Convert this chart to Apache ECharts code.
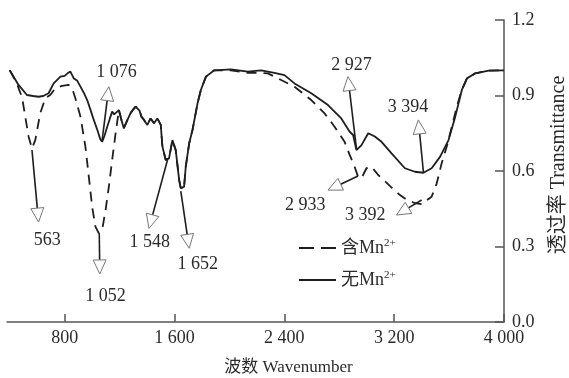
<!DOCTYPE html>
<html>
<head>
<meta charset="utf-8">
<script src="https://cdn.jsdelivr.net/npm/echarts@6/dist/echarts.min.js"></script>
<style>html,body{margin:0;padding:0;background:#fff}#c{width:569px;height:378px}</style>
</head>
<body>
<div id="c"></div>
<script>
// ---- data ----
var seriesNames = ['含Mn2+', '无Mn2+'];
var withMnX = [400,430,452,470,489,513,537,562,586,622,659,695,732,781,829,854,878,915,951,976,1000,1024,1049,1073,1098,1122,1146,1171,1188,1195,1215,1231,1255,1280,1300,1317,1329,1345,1360,1378,1402,1426,1451,1475,1500,1512,1536,1560,1585,1609,1634,1646,1670,1682,1707,1731,1768,1792,1829,1890,2011,2133,2200,2280,2353,2474,2596,2693,2766,2839,2876,2912,2937,2962,2998,3035,3084,3132,3180,3230,3278,3351,3400,3424,3473,3510,3546,3583,3620,3656,3693,3730,3791,3889,4000];
var withMnY = [1.0,0.97,0.948,0.92,0.895,0.816,0.737,0.690,0.723,0.829,0.889,0.902,0.929,0.938,0.942,0.929,0.889,0.816,0.697,0.577,0.458,0.379,0.352,0.366,0.445,0.538,0.644,0.750,0.815,0.842,0.8,0.77,0.8,0.83,0.845,0.856,0.862,0.84,0.815,0.803,0.783,0.809,0.790,0.809,0.783,0.697,0.644,0.650,0.723,0.683,0.564,0.531,0.538,0.617,0.710,0.763,0.869,0.922,0.975,1.0,1.0,0.99,0.99,0.988,0.968,0.935,0.882,0.829,0.776,0.716,0.664,0.617,0.577,0.571,0.611,0.617,0.584,0.56,0.535,0.51,0.491,0.472,0.468,0.478,0.498,0.551,0.631,0.697,0.776,0.856,0.922,0.968,0.988,0.999,1.0];
var noMnX = [400,464,525,571,610,644,683,720,769,800,825,842,866,890,915,940,964,990,1012,1040,1060,1073,1090,1110,1130,1146,1160,1171,1195,1215,1231,1255,1280,1300,1317,1329,1345,1360,1378,1402,1426,1451,1475,1500,1512,1536,1560,1585,1609,1634,1646,1670,1682,1707,1731,1768,1792,1829,1890,2011,2133,2231,2328,2401,2474,2596,2718,2815,2876,2901,2925,2962,3011,3059,3108,3181,3278,3351,3413,3473,3535,3596,3645,3693,3730,3791,3889,4000];
var noMnY = [1.0,0.942,0.902,0.898,0.895,0.898,0.909,0.948,0.975,0.978,0.99,0.995,0.968,0.96,0.935,0.91,0.882,0.84,0.803,0.76,0.725,0.716,0.74,0.776,0.81,0.836,0.825,0.83,0.842,0.8,0.77,0.8,0.83,0.845,0.856,0.862,0.84,0.815,0.803,0.783,0.809,0.790,0.809,0.783,0.697,0.644,0.650,0.723,0.683,0.564,0.531,0.538,0.617,0.710,0.763,0.869,0.922,0.975,1.0,1.004,0.995,1.0,0.99,0.981,0.948,0.909,0.862,0.809,0.756,0.743,0.683,0.703,0.750,0.737,0.716,0.670,0.611,0.597,0.593,0.611,0.657,0.723,0.816,0.922,0.968,0.988,0.999,1.0];

var xTicks = [800, 1600, 2400, 3200, 4000];
var yTicks = [0, 0.3, 0.6, 0.9, 1.2];

// annotation peaks: label, curve point, arrow tip, label centre
var annLabels = ['563', '1 052', '1 076', '1 548', '1 652', '2 927', '3 394', '2 933', '3 392'];
var annFromX  = [562, 1052, 1073, 1549, 1646, 2925, 3413, 2937, 3400];
var annFromY  = [0.683, 0.352, 0.723, 0.644, 0.52, 0.69, 0.596, 0.58, 0.485];
var annTipX   = [610, 1056, 1122, 1414, 1707, 2863, 3376, 2718, 3217];
var annTipY   = [0.397, 0.191, 0.935, 0.372, 0.293, 0.975, 0.803, 0.524, 0.425];
var annTextX  = [674, 1098, 1178, 1419, 1770, 2889, 3300, 2552, 2990];
var annTextY  = [0.326, 0.103, 0.993, 0.318, 0.228, 1.019, 0.853, 0.462, 0.425];

// ---- build ----
function zip(a, b) { return a.map(function (v, i) { return [v, b[i]]; }); }
var annData = annLabels.map(function (l, i) {
  return [annFromX[i], annFromY[i], annTipX[i], annTipY[i], annTextX[i], annTextY[i]];
});
var FONT = '"Liberation Serif", "Noto Sans CJK SC", serif';
var INK = '#1e1e1e';
var TXT = '#2a2a2a';
function thou(v) { var s = String(v); return s.length > 3 ? s.slice(0, s.length - 3) + ' ' + s.slice(-3) : s; }

var chart = echarts.init(document.getElementById('c'), null, { renderer: 'canvas' });
chart.setOption({
  animation: false,
  backgroundColor: '#fff',
  grid: { left: 7, right: 65, top: 20, bottom: 56, containLabel: false, outerBoundsMode: 'none' },
  legend: {
    orient: 'vertical', left: 298, top: 238, padding: 0,
    itemWidth: 37, itemHeight: 14, itemGap: 13,
    itemStyle: { opacity: 0 },
    textStyle: { fontFamily: FONT, fontSize: 18, color: TXT, lineHeight: 18,
      rich: { sup: { fontFamily: FONT, fontSize: 11, color: TXT, padding: [0, 0, 9, 0] } } },
    formatter: function (n) { return n.replace('2+', '') + '{sup|2+}'; },
    data: [
      { name: seriesNames[0], lineStyle: { type: [15, 7], width: 2 } },
      { name: seriesNames[1], lineStyle: { width: 2 } }
    ]
  },
  xAxis: {
    type: 'value', min: 380, max: 4000,
    name: '波数 Wavenumber', nameLocation: 'middle', nameGap: 37,
    nameTextStyle: { fontFamily: FONT, fontSize: 17, color: TXT, padding: [0, 0, 0, 66] },
    axisLine: { show: true, lineStyle: { color: '#555', width: 1.5 } },
    axisTick: { show: true, inside: true, length: 8, customValues: xTicks, lineStyle: { color: '#555', width: 1.5 } },
    axisLabel: { customValues: xTicks, margin: 7, fontFamily: FONT, fontSize: 18, color: TXT, formatter: thou },
    splitLine: { show: false }
  },
  yAxis: {
    type: 'value', position: 'right', min: 0, max: 1.2, interval: 0.3,
    name: '透过率 Transmittance', nameLocation: 'middle', nameGap: 45, nameRotate: 90,
    nameTextStyle: { fontFamily: FONT, fontSize: 20, color: TXT, padding: [0, 0, 0, 12] },
    axisLine: { show: true, lineStyle: { color: '#555', width: 1.5 } },
    axisTick: { show: true, inside: true, length: 9, lineStyle: { color: '#555', width: 1.5 } },
    axisLabel: { margin: 8, fontFamily: FONT, fontSize: 18, color: TXT, formatter: function (v) { return v.toFixed(1); } },
    splitLine: { show: false }
  },
  series: [
    { name: seriesNames[1], type: 'line', data: zip(noMnX, noMnY), showSymbol: false, symbol: 'none',
      lineStyle: { color: INK, width: 1.8, type: 'solid' }, itemStyle: { color: INK }, z: 2 },
    { name: seriesNames[0], type: 'line', data: zip(withMnX, withMnY), showSymbol: false, symbol: 'none',
      lineStyle: { color: INK, width: 1.8, type: [10, 7] }, itemStyle: { color: INK }, z: 3 },
    { type: 'custom', coordinateSystem: 'cartesian2d', data: annData, clip: false, z: 5,
      encode: { x: [0, 2, 4], y: [1, 3, 5] },
      renderItem: function (params, api) {
        var s = api.coord([api.value(0), api.value(1)]);
        var t = api.coord([api.value(2), api.value(3)]);
        var l = api.coord([api.value(4), api.value(5)]);
        var dx = t[0] - s[0], dy = t[1] - s[1];
        var len = Math.sqrt(dx * dx + dy * dy) || 1;
        var ux = dx / len, uy = dy / len;
        var H = 14, W = 13;
        var bx = t[0] - ux * H, by = t[1] - uy * H;
        var px = -uy, py = ux;
        return { type: 'group', children: [
          { type: 'line', shape: { x1: s[0], y1: s[1], x2: bx, y2: by }, style: { stroke: INK, lineWidth: 1.6 } },
          { type: 'polygon', shape: { points: [[t[0], t[1]], [bx + px * W / 2, by + py * W / 2], [bx - px * W / 2, by - py * W / 2]] },
            style: { fill: '#fff', stroke: '#777', lineWidth: 1 } },
          { type: 'text', x: l[0], y: l[1], style: { text: annLabels[params.dataIndex], font: '18px ' + FONT, fill: TXT, align: 'center', verticalAlign: 'middle' } }
        ] };
      }
    }
  ]
});
</script>
</body>
</html>
